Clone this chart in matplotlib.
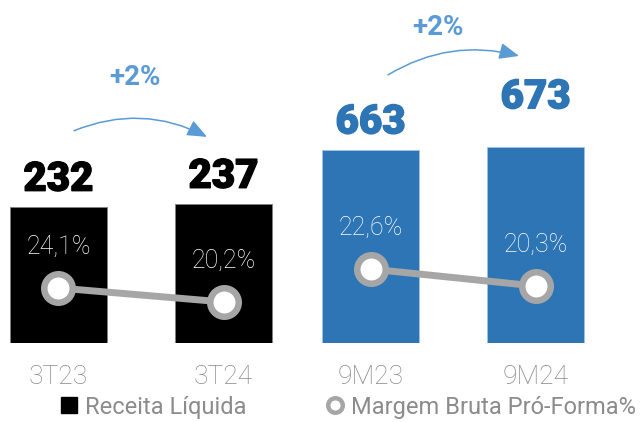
#! /usr/bin/python3
# -*- coding: utf-8 -*-

"""
Receita liquida (barras) e margem bruta pro-forma (linha), trimestre e acumulado
"""
import matplotlib
matplotlib.use("Agg")
from matplotlib import rcParams
from matplotlib.lines import Line2D
from matplotlib.patches import Patch
import matplotlib.patheffects as pe
import matplotlib.pyplot as plt

periodos_tri = ["3T23", "3T24"]
receita_tri = [232, 237]
margem_tri = [24.1, 20.2]

periodos_acum = ["9M23", "9M24"]
receita_acum = [663, 673]
margem_acum = [22.6, 20.3]

variacao_tri = "+2%"
variacao_acum = "+2%"

PRETO = "#000000"
AZUL = "#2E75B6"
AZUL_CLARO = "#5B9BD5"
CINZA_LINHA = "#A6A6A6"
CINZA_TEXTO = "#888888"


def fmt_pct(v):
    return ("%.1f%%" % v).replace(".", ",")


def painel(fig, rect, xlim, ylim_bar, ylim_lin, periodos, receita, margem, cor, borda, desloc_valor):
    ax = fig.add_axes(rect)
    x = range(len(periodos))
    ax.bar(x, receita, width=0.588, color=cor, edgecolor=borda, linewidth=0.6)
    ax.set_xlim(*xlim)
    ax.set_ylim(*ylim_bar)
    ax.set_xticks(list(x))
    ax.set_xticklabels(periodos, fontsize=19, color=CINZA_TEXTO, fontweight="light")
    ax.tick_params(axis="x", length=0, pad=16)
    ax.set_yticks([])
    for s in ax.spines.values():
        s.set_visible(False)
    for i, v in enumerate(receita):
        ax.annotate(str(v), (i, v), xytext=(0, desloc_valor[i]), textcoords="offset points",
                    ha="center", va="center", fontsize=29, fontweight="black", color=cor,
                    path_effects=[pe.withStroke(linewidth=1.0, foreground=cor)])

    ax2 = ax.twinx()
    ax2.set_ylim(*ylim_lin)
    ax2.plot(list(x), margem, color=CINZA_LINHA, linewidth=5, marker="o", markersize=20.5,
             markerfacecolor="white", markeredgecolor=CINZA_LINHA, markeredgewidth=4.7)
    for i, v in enumerate(margem):
        ax2.annotate(fmt_pct(v), (i, v), xytext=(0, 29.5), textcoords="offset points",
                     ha="center", va="center", fontsize=18, fontweight="light", color="white")
    ax2.set_yticks([])
    for s in ax2.spines.values():
        s.set_visible(False)
    return ax


def seta(ax, texto, origem, destino, pos_texto, rad):
    ax.annotate("", xy=destino, xytext=origem,
                arrowprops=dict(arrowstyle="-|>,head_length=0.6,head_width=0.25", mutation_scale=20,
                                color=AZUL_CLARO, linewidth=1.1, shrinkA=0, shrinkB=0,
                                connectionstyle="arc3,rad=%s" % rad))
    ax.text(pos_texto[0], pos_texto[1], texto, ha="center", va="center", fontsize=20,
            fontweight="bold", color=AZUL_CLARO)


def main():
    rcParams["font.family"] = ["Roboto", "DejaVu Sans"]

    fig = plt.figure(figsize=(6.41, 4.22), dpi=100)
    base = 79 / 422.0
    altura = 343 / 422.0

    ax_tri = painel(fig, [0, base, 300 / 641.0, altura], (-0.3545, 1.4636), (0, 585), (8.78, 104.3),
                    periodos_tri, receita_tri, margem_tri, PRETO, "#7f7f7f", [20, 20])
    ax_acum = painel(fig, [300 / 641.0, base, 341 / 641.0, altura], (-0.4273, 1.639), (0, 1177),
                     (12.59, 59.0), periodos_acum, receita_acum, margem_acum, AZUL, "#9DC3E6", [20, 36])

    seta(ax_tri, variacao_tri, (0.094, 362), (0.9, 351.5), (0.464, 452), -0.23)
    seta(ax_acum, variacao_acum, (0.106, 920), (0.9, 985), (0.409, 1084), -0.21)

    handles = [Patch(facecolor=PRETO, edgecolor=PRETO),
               Line2D([], [], linestyle="none", marker="o", markersize=10.5, markerfacecolor="white",
                      markeredgecolor=CINZA_LINHA, markeredgewidth=3.2)]
    leg = fig.legend(handles, ["Receita Líquida", "Margem Bruta Pró-Forma%"], loc="center",
                     bbox_to_anchor=(0.5437, 0.0355), ncol=2, frameon=False, fontsize=17,
                     handlelength=0.68, handleheight=0.68, handletextpad=0.35, columnspacing=3.4,
                     borderpad=0, borderaxespad=0)
    for t in leg.get_texts():
        t.set_color("#8C8C8C")

    fig.savefig("out.png", dpi=100)


if __name__ == "__main__":
    main()
